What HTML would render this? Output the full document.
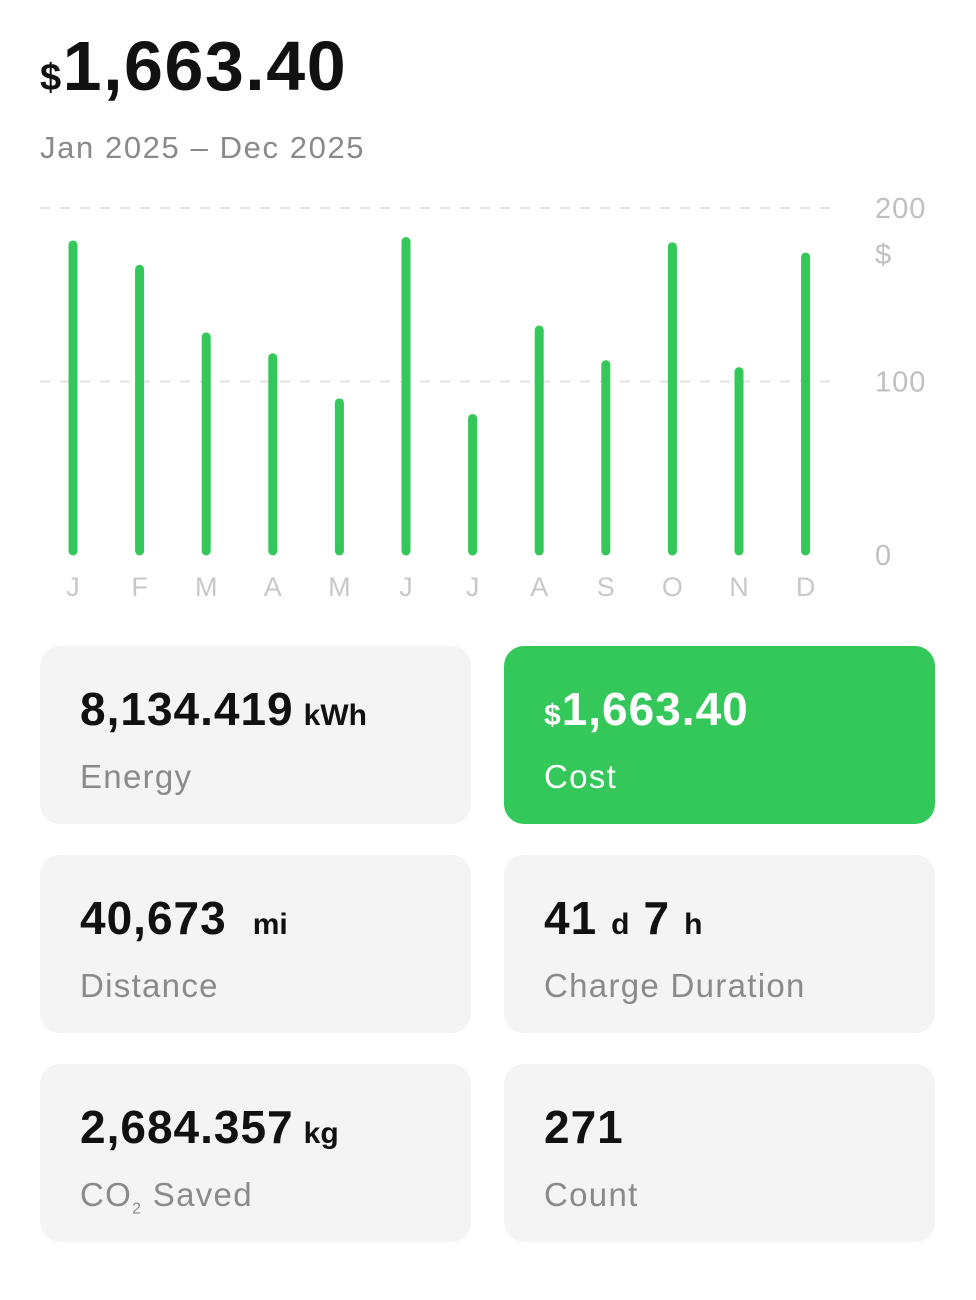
<!DOCTYPE html>
<html><head><meta charset="utf-8"><style>
body{margin:0;width:976px;height:1300px;background:#fff;font-family:"Liberation Sans",sans-serif;position:relative;overflow:hidden}
.abs{position:absolute}
.card{position:absolute;width:431px;height:178px;border-radius:20px;background:#f4f4f4}
.val{position:absolute;left:40px;top:36px;font-size:46px;font-weight:bold;color:#111;white-space:nowrap;letter-spacing:1px}
.unit{font-size:30px;margin-left:10px;letter-spacing:0}
.lbl{position:absolute;left:40px;top:112px;font-size:33px;color:#8a8a8a;letter-spacing:1.3px}
</style></head><body>
<div class="abs" style="left:40px;top:26px;font-size:70px;font-weight:bold;color:#111;letter-spacing:1.5px"><span style="font-size:38px">$</span>1,663.40</div>
<div class="abs" style="left:40px;top:130px;font-size:31px;color:#8a8a8a;letter-spacing:1.6px">Jan 2025 – Dec 2025</div>
<svg class="abs" style="left:0;top:180px" width="976" height="440" id="chart"></svg>
<div class="card" style="left:40px;top:646px"><div class="val">8,134.419<span class="unit">kWh</span></div><div class="lbl">Energy</div></div>
<div class="card" style="left:504px;top:646px;background:#34c759"><div class="val" style="color:#fff"><span style="font-size:30px">$</span>1,663.40</div><div class="lbl" style="color:#fff">Cost</div></div>
<div class="card" style="left:40px;top:855px"><div class="val">40,673<span class="unit" style="margin-left:26px">mi</span></div><div class="lbl">Distance</div></div>
<div class="card" style="left:504px;top:855px"><div class="val">41<span class="unit" style="margin:0 14px">d</span>7<span class="unit" style="margin-left:14px">h</span></div><div class="lbl">Charge Duration</div></div>
<div class="card" style="left:40px;top:1064px"><div class="val">2,684.357<span class="unit">kg</span></div><div class="lbl">CO<sub style="font-size:16px">2</sub> Saved</div></div>
<div class="card" style="left:504px;top:1064px"><div class="val">271</div><div class="lbl">Count</div></div>
<script>
const months=["J","F","M","A","M","J","J","A","S","O","N","D"];
const costs=[181,167,128,116,90,183,81,132,112,180,108,174];
const ticks=[0,100,200];
const svg=document.getElementById('chart');const NS="http://www.w3.org/2000/svg";
const y0=375,ppu=1.735;const y=v=>y0-v*ppu;const x=i=>73+i*66.6;
function mk(t,a){const e=document.createElementNS(NS,t);for(const k in a)e.setAttribute(k,a[k]);svg.appendChild(e);return e;}
ticks.forEach(t=>{
 if(t>0){const l=mk('line',{x1:40,x2:840,y1:y(t),y2:y(t),stroke:'#e3e3e3','stroke-width':2,'stroke-dasharray':'10 10'});
 
 }
 const tx=mk('text',{x:875,y:y(t)+10,'font-size':29,fill:'#c0c0c0','font-family':'Liberation Sans','letter-spacing':1});tx.textContent=t;
 
 
});
const cur=mk('text',{x:875,y:y(200)+56,'font-size':29,fill:'#c0c0c0','font-family':'Liberation Sans'});cur.textContent='$';


costs.forEach((v,i)=>{
 const b=mk('line',{x1:x(i),x2:x(i),y1:y(v)+4,y2:y0-4,stroke:'#34c759','stroke-width':9,'stroke-linecap':'round'});
 
 
 const t=mk('text',{x:x(i),y:416,'font-size':27,fill:'#c8c8c8','text-anchor':'middle','font-family':'Liberation Sans'});t.textContent=months[i];
 
 
});
</script>
</body></html>
